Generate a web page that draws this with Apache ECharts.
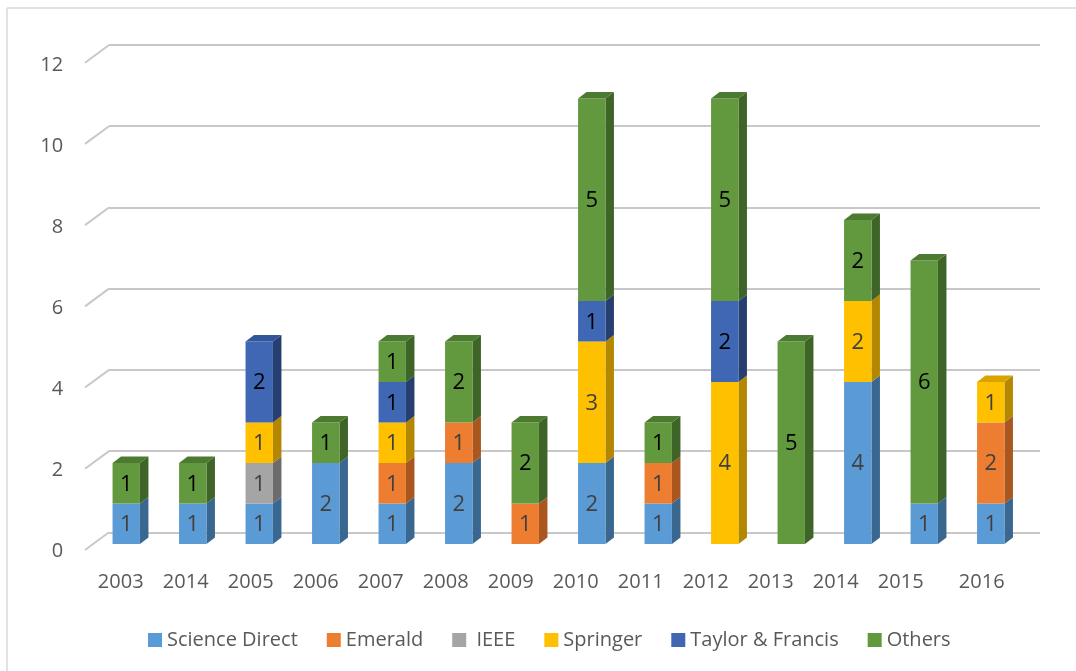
<!DOCTYPE html>
<html>
<head>
<meta charset="utf-8">
<script src="https://cdn.jsdelivr.net/npm/echarts@6/dist/echarts.min.js"></script>
<style>
  html, body { margin: 0; padding: 0; background: #ffffff; }
  #chart { width: 1076px; height: 671px; }
</style>
</head>
<body>
<div id="chart"></div>
<script>
// ---------------- data ----------------
const categories = ['2003', '2014', '2005', '2006', '2007', '2008', '2009', '2010', '2011', '2012', '2013', '2014', '2015', '2016'];
const scienceDirect = [1, 1, 1, 2, 1, 2, 0, 2, 1, 0, 0, 4, 1, 1];
const emerald       = [0, 0, 0, 0, 1, 1, 1, 0, 1, 0, 0, 0, 0, 2];
const ieee          = [0, 0, 1, 0, 0, 0, 0, 0, 0, 0, 0, 0, 0, 0];
const springer      = [0, 0, 1, 0, 1, 0, 0, 3, 0, 4, 0, 2, 0, 1];
const taylorFrancis = [0, 0, 2, 0, 1, 0, 0, 1, 0, 2, 0, 0, 0, 0];
const others        = [1, 1, 0, 1, 1, 2, 2, 5, 1, 5, 5, 2, 6, 0];
const seriesNames = ['Science Direct', 'Emerald', 'IEEE', 'Springer', 'Taylor & Francis', 'Others'];
const yMin = 0, yMax = 12, yInterval = 2;
const yTicks = [0, 2, 4, 6, 8, 10, 12];

// ---------------- styles ----------------
const FONT = '"Open Sans", "Noto Sans", sans-serif';
const TEXT_GREY = '#595959';
const shades = [
  { front: '#5B9BD5', side: '#3A6790', top: '#4A81B3', label: '#404040' },
  { front: '#ED7D31', side: '#A9561F', top: '#C96A2A', label: '#404040' },
  { front: '#A5A5A5', side: '#6B6B6B', top: '#8A8A8A', label: '#404040' },
  { front: '#FFC000', side: '#B38700', top: '#D9A300', label: '#404040' },
  { front: '#3F67B3', side: '#263F70', top: '#33569A', label: '#000000' },
  { front: '#62993E', side: '#3F6428', top: '#4C7A30', label: '#000000' }
];
const BAR_RATIO = 0.412;
const BAR_DX = 8.5, BAR_DY = 6.6;     // bar depth
const WALL_DX = 24, WALL_DY = 17.7;   // floor/wall slant

const allValues = [scienceDirect, emerald, ieee, springer, taylorFrancis, others];
const totals = categories.map((c, i) => allValues.reduce((s, arr) => s + arr[i], 0));
const bases = categories.map(() => 0);

const barSeries = allValues.map((arr, k) => {
  const data = [];
  arr.forEach((v, i) => {
    if (v > 0) {
      const b = bases[i];
      const t = b + v;
      data.push([i, b, t, v, t === totals[i] ? 1 : 0]);
      bases[i] = t;
    }
  });
  const sh = shades[k];
  return {
    name: seriesNames[k],
    type: 'custom',
    xAxisIndex: 2,
    yAxisIndex: 2,
    z: 10,
    itemStyle: { color: sh.front },
    data: data,
    renderItem: function (params, api) {
      const i = api.value(0), b = api.value(1), t = api.value(2), v = api.value(3), isTop = api.value(4);
      const pb = api.coord([i, b]);
      const pt = api.coord([i, t]);
      const bw = api.size([1, 0])[0] * BAR_RATIO;
      const x0 = pb[0] - bw / 2, x1 = x0 + bw, yb = pb[1], yt = pt[1];
      const children = [
        { type: 'polygon', shape: { points: [[x1, yt], [x1 + BAR_DX, yt - BAR_DY], [x1 + BAR_DX, yb - BAR_DY], [x1, yb]] },
          style: { fill: sh.side } },
        { type: 'rect', shape: { x: x0, y: yt, width: bw, height: yb - yt }, style: { fill: sh.front } }
      ];
      if (isTop) {
        children.push({ type: 'polygon', shape: { points: [[x0, yt], [x0 + BAR_DX, yt - BAR_DY], [x1 + BAR_DX, yt - BAR_DY], [x1, yt]] },
          style: { fill: sh.top } });
      }
      children.push({ type: 'text', style: { text: String(v), x: pb[0], y: (yb + yt) / 2 + 1,
        align: 'center', verticalAlign: 'middle', fill: sh.label, fontSize: 22, fontFamily: FONT } });
      return { type: 'group', children: children };
    }
  };
});

const wallSeries = {
  type: 'custom',
  xAxisIndex: 1,
  yAxisIndex: 1,
  z: 1,
  silent: true,
  data: yTicks.map(v => [0, v]),
  renderItem: function (params, api) {
    const p = api.coord([0, api.value(1)]);
    const lx = p[0] - api.size([1, 0])[0] / 2;
    return { type: 'line', shape: { x1: lx - WALL_DX, y1: p[1] + WALL_DY, x2: lx, y2: p[1] },
      style: { stroke: '#C8C8C8', lineWidth: 2 } };
  }
};

const option = {
  animation: false,
  backgroundColor: '#ffffff',
  color: shades.map(s => s.front),
  graphic: [
    { type: 'line', shape: { x1: 7, y1: 8, x2: 1076, y2: 8 }, style: { stroke: '#D9D9D9', lineWidth: 1.5 } },
    { type: 'line', shape: { x1: 7, y1: 8, x2: 7, y2: 671 }, style: { stroke: '#D9D9D9', lineWidth: 1.5 } }
  ],
  grid: [
    { left: 88.2, top: 65.7, width: 910, height: 486 },   // front plane: labels
    { left: 109, top: 45, width: 931, height: 487.3 },    // back wall: gridlines
    { left: 93, top: 58, width: 931, height: 486 }        // bars
  ],
  xAxis: [
    { gridIndex: 0, type: 'category', data: categories,
      axisLine: { show: false }, axisTick: { show: false },
      axisLabel: { interval: 0, margin: 21, color: TEXT_GREY, fontSize: 20, fontFamily: FONT, lineHeight: 20,
        formatter: function (v, i) { return i === categories.length - 1 ? '{s|' + v + '}' : v; },
        rich: { s: { padding: [0, 0, 0, 32], color: TEXT_GREY, fontSize: 20, fontFamily: FONT, lineHeight: 20 } } } },
    { gridIndex: 1, type: 'category', data: categories, show: false },
    { gridIndex: 2, type: 'category', data: categories, show: false }
  ],
  yAxis: [
    { gridIndex: 0, type: 'value', min: yMin, max: yMax, interval: yInterval,
      axisLine: { show: false }, axisTick: { show: false }, splitLine: { show: false },
      axisLabel: { margin: 25, color: TEXT_GREY, fontSize: 20, fontFamily: FONT } },
    { gridIndex: 1, type: 'value', min: yMin, max: yMax, interval: yInterval,
      axisLine: { show: false }, axisTick: { show: false }, axisLabel: { show: false },
      splitLine: { show: true, lineStyle: { color: '#C8C8C8', width: 2 } } },
    { gridIndex: 2, type: 'value', min: yMin, max: yMax, interval: yInterval, show: false }
  ],
  legend: {
    data: seriesNames.map(n => ({ name: n, icon: 'rect' })),
    left: 143, top: 624,
    itemWidth: 14, itemHeight: 14, itemGap: 29,
    formatter: function (n) { return n === 'IEEE' ? ' IEEE' : n; },
    textStyle: { color: TEXT_GREY, fontSize: 20, fontFamily: FONT, lineHeight: 22 }
  },
  series: [wallSeries].concat(barSeries)
};

const chart = echarts.init(document.getElementById('chart'), null, { renderer: 'canvas' });
chart.setOption(option);
</script>
</body>
</html>
